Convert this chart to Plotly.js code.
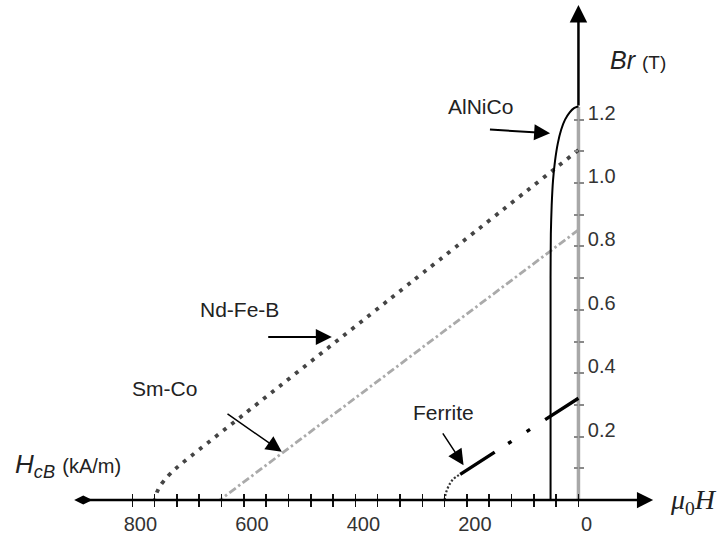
<!DOCTYPE html>
<html><head><meta charset="utf-8">
<script src="https://cdn.plot.ly/plotly-3.0.1.min.js"></script>
<style>html,body{margin:0;padding:0;background:#fff}#chart{width:726px;height:541px}</style>
</head><body><div id="chart"></div>
<script>
// Demagnetisation curves: H in kA/m (plotted to the left), B in T
const ndfebH = [0, 300, 600, 715, 728, 740, 750, 756, 760];
const ndfebB = [1.104, 0.687, 0.270, 0.110, 0.090, 0.068, 0.045, 0.024, 0];
const smcoH = [0, 643];
const smcoB = [0.852, 0];
const alnicoH = [0, 8, 16, 24, 31, 37, 42, 45.5, 48, 49.5, 50, 50];
const alnicoB = [1.242, 1.236, 1.222, 1.2, 1.168, 1.125, 1.07, 1.01, 0.93, 0.84, 0.70, 0];
const ferriteKneeH = [240, 238, 233, 225, 212];
const ferriteKneeB = [0, 0.02, 0.043, 0.065, 0.081];
const ferriteLineH = [212, 0];
const ferriteLineB = [0.081, 0.321];

const xTickVals = [0,40,80,120,160,200,240,280,320,360,400,440,480,520,560,600,640,680,720,760,800];
const xTickText = ['0','','','','','200','','','','','400','','','','','600','','','','','800'];
const yTickVals = [0.1,0.2,0.3,0.4,0.5,0.6,0.7,0.8,0.9,1.0,1.1,1.2];
const yTickText = ['','0.2','','0.4','','0.6','','0.8','','1.0','','1.2'];

const XR = [1037.3, -264.6];
const YR = [-0.1293, 1.5773];
const XPOS = 0.07579, YPOS = 0.7966;
const sans = 'Liberation Sans, Arial, sans-serif';

const traces = [
  {x: smcoH, y: smcoB, mode: 'lines', line: {color: '#aaaaaa', width: 2.8, dash: '8px,3px,2.5px,3px'}, hoverinfo: 'skip'},
  {x: ndfebH, y: ndfebB, mode: 'lines', line: {color: '#444444', width: 3.8, dash: '3.8px,6.4px', shape: 'spline', smoothing: 0.8}, hoverinfo: 'skip'},
  {x: ferriteKneeH, y: ferriteKneeB, mode: 'lines', line: {color: '#333', width: 2.2, dash: '2px,2px', shape: 'spline'}, hoverinfo: 'skip'},
  {x: ferriteLineH, y: ferriteLineB, mode: 'lines', line: {color: '#000', width: 3.4, dash: '41px,16px,4px,18px,4px,18px,60px'}, hoverinfo: 'skip'},
  {x: alnicoH, y: alnicoB, mode: 'lines', line: {color: '#000', width: 2, shape: 'spline', smoothing: 0.6}, hoverinfo: 'skip'},
  {x: [888], y: [0], mode: 'markers', marker: {symbol: 'diamond-wide', size: 13, color: '#000'}, hoverinfo: 'skip'},
  {x: [0], y: [0], xaxis: 'x2', yaxis: 'y2', mode: 'markers', marker: {opacity: 0}, hoverinfo: 'skip'}
];

function arrow(x, y, ax, ay, w, s) {
  return {x: x, y: y, ax: ax, ay: ay, xref: 'x', yref: 'y', axref: 'x', ayref: 'y', text: '',
    showarrow: true, arrowhead: 2, arrowwidth: w, arrowsize: s, arrowcolor: '#000', standoff: 0, startstandoff: 0};
}
function label(x, y, txt, size, xanchor, family) {
  return {x: x, y: y, xref: 'x', yref: 'y', text: txt, showarrow: false, xanchor: xanchor || 'center', yanchor: 'middle',
    font: {family: family || sans, size: size, color: '#222'}};
}

const annotations = [
  arrow(-134, 0, 888, 0, 2.5, 1.3),
  arrow(0, 1.5615, 0, 1.24, 2.5, 1.4),
  arrow(442.3, 0.514, 559, 0.514, 2, 1.6),
  arrow(532, 0.152, 632, 0.275, 1.5, 2.1),
  arrow(50.8, 1.157, 161.4, 1.169, 2, 1.6),
  arrow(206, 0.110, 245, 0.215, 1.5, 2.1),
  label(176.3, 1.241, 'AlNiCo', 21),
  label(608.6, 0.6025, 'Nd-Fe-B', 21),
  label(743, 0.353, 'Sm-Co', 21),
  label(242.7, 0.276, 'Ferrite', 21),
  label(-106.2, 1.388, '<i>Br</i> <span style="font-size:19px">(T)</span>', 25),
  label(1014, 0.110, '<i>H</i><sub><i>cB</i></sub> <span style="font-size:20px">(kA/m)</span>', 26, 'left'),
  label(-161.2, -0.006, '<i>μ</i><sub>0</sub><i>H</i>', 28, 'left', 'Liberation Serif, Times New Roman, serif')
];

const shapes = [
  {type: 'line', xref: 'x', yref: 'y', x0: 0, x1: 0, y0: 0, y1: 1.24, line: {color: '#a8a8a8', width: 3.5}, layer: 'below'}
];

const tickFont = {family: sans, size: 20, color: '#333'};
const layout = {
  width: 726, height: 541, margin: {l: 0, r: 0, t: 0, b: 0, pad: 0},
  paper_bgcolor: '#fff', plot_bgcolor: '#fff', showlegend: false,
  xaxis: {range: XR, autorange: false, anchor: 'free', position: XPOS, showgrid: false, zeroline: false, showline: false,
    tickmode: 'array', tickvals: xTickVals, ticktext: xTickText, ticks: 'outside', ticklen: 6, tickwidth: 1.6, tickcolor: '#111',
    tickfont: tickFont, ticklabelshift: -8, fixedrange: true},
  xaxis2: {range: XR, autorange: false, overlaying: 'x', anchor: 'free', position: XPOS, side: 'top', showgrid: false, zeroline: false, showline: false,
    tickmode: 'array', tickvals: xTickVals, ticks: 'outside', ticklen: 6, tickwidth: 1.6, tickcolor: '#111', showticklabels: false},
  yaxis: {range: YR, autorange: false, anchor: 'free', position: YPOS, side: 'right', showgrid: false, zeroline: false, showline: false,
    tickmode: 'array', tickvals: yTickVals, ticktext: yTickText, ticks: 'outside', ticklen: 4.5, tickwidth: 2, tickcolor: '#8a8a8a',
    tickfont: tickFont, ticklabelshift: -7, fixedrange: true},
  yaxis2: {range: YR, autorange: false, overlaying: 'y', anchor: 'free', position: YPOS, side: 'left', showgrid: false, zeroline: false, showline: false,
    tickmode: 'array', tickvals: yTickVals, ticks: 'outside', ticklen: 4.5, tickwidth: 2, tickcolor: '#8a8a8a', showticklabels: false},
  shapes: shapes,
  annotations: annotations
};

Plotly.newPlot('chart', traces, layout, {displayModeBar: false, staticPlot: true});
</script>
</body></html>
